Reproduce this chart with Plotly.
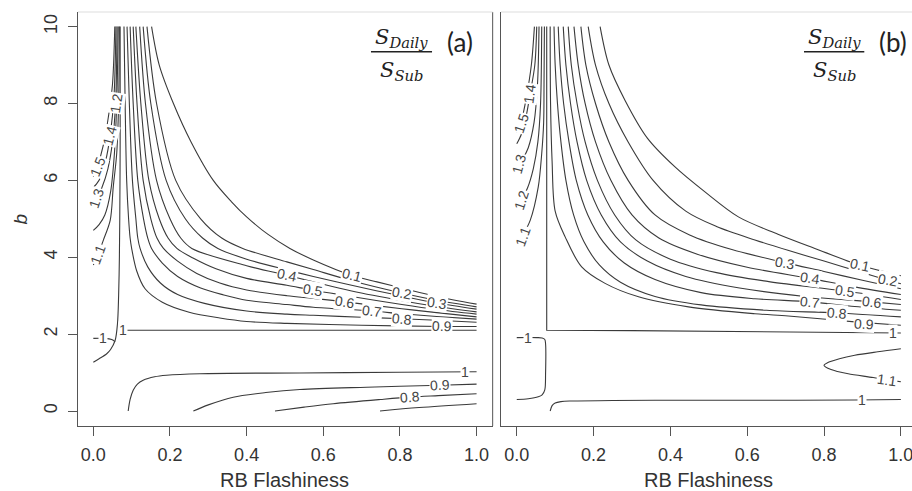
import plotly.graph_objects as go

# ---------------------------------------------------------------------------
# Contour lines of S_Daily / S_Sub  (x = RB Flashiness, y = b)
# ---------------------------------------------------------------------------

# ---- panel (a) ----
a_01_x = [0.152, 0.172, 0.209, 0.255, 0.313, 0.36, 0.40, 0.455, 0.513, 0.574, 0.674, 0.74, 0.805, 0.896, 1.0]
a_01_y = [10, 9, 8, 7, 6, 5.45, 5.05, 4.6, 4.23, 3.93, 3.53, 3.36, 3.20, 2.98, 2.78]
a_02_x = [0.140, 0.165, 0.215, 0.28, 0.335, 0.39, 0.505, 0.574, 0.674, 0.805, 0.896, 1.0]
a_02_y = [10, 8, 6, 5, 4.5, 4.23, 3.88, 3.68, 3.39, 3.07, 2.88, 2.71]
a_03_x = [0.130, 0.150, 0.19, 0.24, 0.285, 0.325, 0.40, 0.505, 0.574, 0.674, 0.805, 0.896, 1.0]
a_03_y = [10, 8, 6, 5, 4.5, 4.23, 3.95, 3.67, 3.50, 3.27, 2.99, 2.81, 2.65]
a_04_x = [0.121, 0.136, 0.165, 0.20, 0.228, 0.257, 0.40, 0.505, 0.574, 0.674, 0.805, 0.896, 1.0]
a_04_y = [10, 8, 6, 5, 4.5, 4.23, 3.78, 3.53, 3.36, 3.12, 2.87, 2.72, 2.58]
a_05_x = [0.111, 0.124, 0.145, 0.172, 0.195, 0.218, 0.26, 0.32, 0.40, 0.505, 0.574, 0.674, 0.805, 0.896, 1.0]
a_05_y = [10, 8, 6, 5, 4.5, 4.23, 3.98, 3.7, 3.45, 3.27, 3.14, 2.98, 2.77, 2.64, 2.52]
a_06_x = [0.104, 0.114, 0.130, 0.150, 0.166, 0.183, 0.22, 0.27, 0.33, 0.40, 0.505, 0.574, 0.657, 0.805, 0.896, 1.0]
a_06_y = [10, 8, 6, 5, 4.5, 4.23, 3.9, 3.58, 3.33, 3.15, 3.0, 2.93, 2.84, 2.66, 2.56, 2.45]
a_07_x = [0.096, 0.104, 0.116, 0.131, 0.142, 0.152, 0.18, 0.22, 0.28, 0.34, 0.40, 0.505, 0.574, 0.726, 0.805, 0.896, 1.0]
a_07_y = [10, 8, 6, 5, 4.5, 4.23, 3.85, 3.5, 3.2, 3.02, 2.88, 2.77, 2.70, 2.60, 2.53, 2.46, 2.39]
a_08_x = [0.088, 0.094, 0.102, 0.111, 0.116, 0.122, 0.142, 0.175, 0.22, 0.29, 0.40, 0.505, 0.574, 0.70, 0.805, 0.896, 1.0]
a_08_y = [10, 8, 6, 5, 4.5, 4.23, 3.75, 3.33, 3.03, 2.8, 2.6, 2.52, 2.49, 2.44, 2.40, 2.36, 2.31]
a_09_x = [0.080, 0.083, 0.087, 0.092, 0.096, 0.100, 0.113, 0.135, 0.18, 0.25, 0.33, 0.40, 0.505, 0.70, 0.909, 1.0]
a_09_y = [10, 8, 6, 5, 4.5, 4.23, 3.65, 3.18, 2.83, 2.57, 2.42, 2.33, 2.28, 2.23, 2.20, 2.20]

a_11_x = [0.068, 0.066, 0.061, 0.052, 0.044, 0.026, 0.013, 0.0]
a_11_y = [10, 8, 6.7, 5.83, 4.96, 4.44, 4.08, 3.8]
a_12_x = [0.065, 0.061, 0.055, 0.045, 0.030, 0.015, 0.0]
a_12_y = [10, 8, 6.7, 5.7, 5.1, 4.85, 4.7]
a_13_x = [0.062, 0.058, 0.050, 0.038, 0.022, 0.009, 0.0]
a_13_y = [10, 8, 7.0, 6.3, 5.8, 5.53, 5.4]
a_14_x = [0.059, 0.054, 0.044, 0.032, 0.020, 0.008, 0.0]
a_14_y = [10, 8.2, 7.17, 6.5, 6.1, 5.9, 5.82]
a_15_x = [0.056, 0.050, 0.040, 0.028, 0.018, 0.011, 0.0]
a_15_y = [10, 8.5, 7.7, 7.0, 6.6, 6.35, 6.1]

# level 1.0 pieces
a_10v_x = [0.070, 0.070, 0.069, 0.068, 0.066, 0.063, 0.057, 0.045, 0.035, 0.015, 0.0]
a_10v_y = [10, 7, 5, 4, 3, 2.27, 1.84, 1.6, 1.49, 1.36, 1.27]
a_10h_x = [0.068, 0.30, 0.60, 1.0]
a_10h_y = [2.10, 2.10, 2.10, 2.10]
a_10l_x = [0.0, 0.030, 0.048, 0.057]
a_10l_y = [1.89, 1.89, 1.86, 1.80]
a_10b_x = [0.091, 0.096, 0.104, 0.115, 0.13, 0.16, 0.191, 0.278, 0.539, 0.80, 1.0]
a_10b_y = [0.0, 0.3, 0.54, 0.70, 0.80, 0.89, 0.93, 0.97, 0.99, 1.01, 1.02]
# lower levels near the bottom
a_09b_x = [0.261, 0.30, 0.365, 0.45, 0.539, 0.713, 0.905, 1.0]
a_09b_y = [0.0, 0.16, 0.36, 0.48, 0.56, 0.62, 0.67, 0.70]
a_08b_x = [0.474, 0.55, 0.626, 0.75, 0.826, 0.90, 1.0]
a_08b_y = [0.0, 0.10, 0.19, 0.30, 0.36, 0.40, 0.45]
a_07b_x = [0.748, 0.85, 1.0]
a_07b_y = [0.0, 0.09, 0.19]

a_lab_text = ["0.1", "0.2", "0.3", "0.4", "0.5", "0.6", "0.7", "0.8", "0.9",
              "1.1", "1.2", "1.3", "1.4", "1.5", "1", "1", "1", "0.9", "0.8"]
a_lab_x = [0.674, 0.805, 0.896, 0.505, 0.574, 0.657, 0.726, 0.805, 0.909,
           0.013, 0.061, 0.009, 0.044, 0.011, 0.078, 0.025, 0.970, 0.905, 0.826]
a_lab_y = [3.53, 3.07, 2.81, 3.53, 3.14, 2.84, 2.60, 2.40, 2.20,
           4.08, 8.0, 5.53, 7.17, 6.35, 2.10, 1.89, 1.01, 0.67, 0.36]

# ---- panel (b) ----
b_01_x = [0.217, 0.24, 0.282, 0.34, 0.412, 0.49, 0.577, 0.68, 0.776, 0.894, 1.0]
b_01_y = [10, 9, 8.08, 7.1, 6.35, 5.7, 5.05, 4.6, 4.23, 3.79, 3.52]
b_02_x = [0.186, 0.205, 0.24, 0.29, 0.355, 0.44, 0.52, 0.62, 0.706, 0.80, 0.90, 0.967, 1.0]
b_02_y = [10, 9, 8, 7, 6, 5.2, 4.8, 4.45, 4.18, 3.9, 3.6, 3.40, 3.31]
b_03_x = [0.167, 0.18, 0.205, 0.24, 0.29, 0.36, 0.45, 0.56, 0.698, 0.80, 0.90, 1.0]
b_03_y = [10, 9, 8, 7, 6, 5.1, 4.58, 4.2, 3.86, 3.63, 3.40, 3.18]
b_04_x = [0.149, 0.16, 0.178, 0.205, 0.245, 0.30, 0.37, 0.47, 0.60, 0.763, 0.88, 1.0]
b_04_y = [10, 9, 8, 7, 6, 5.1, 4.5, 4.08, 3.74, 3.45, 3.23, 3.03]
b_05_x = [0.134, 0.142, 0.157, 0.178, 0.21, 0.255, 0.31, 0.40, 0.52, 0.66, 0.854, 1.0]
b_05_y = [10, 9, 8, 7, 6, 5.1, 4.45, 3.95, 3.6, 3.36, 3.12, 2.90]
b_06_x = [0.121, 0.128, 0.14, 0.157, 0.182, 0.22, 0.27, 0.34, 0.44, 0.58, 0.75, 0.924, 1.0]
b_06_y = [10, 9, 8, 7, 6, 5.1, 4.4, 3.9, 3.5, 3.2, 2.98, 2.84, 2.77]
b_07_x = [0.108, 0.113, 0.122, 0.136, 0.155, 0.185, 0.225, 0.28, 0.36, 0.48, 0.62, 0.763, 0.88, 1.0]
b_07_y = [10, 9, 8, 7, 6, 5.1, 4.4, 3.85, 3.42, 3.08, 2.92, 2.84, 2.72, 2.62]
b_08_x = [0.097, 0.10, 0.106, 0.115, 0.128, 0.148, 0.175, 0.215, 0.27, 0.36, 0.48, 0.65, 0.833, 1.0]
b_08_y = [10, 9, 8, 7, 6, 5.1, 4.4, 3.8, 3.35, 2.98, 2.76, 2.62, 2.55, 2.45]
b_09_x = [0.087, 0.088, 0.092, 0.100, 0.126, 0.169, 0.23, 0.317, 0.447, 0.62, 0.707, 0.88, 1.0]
b_09_y = [10, 8, 6.5, 5.2, 4.53, 3.75, 3.32, 2.97, 2.71, 2.53, 2.47, 2.32, 2.23]

b_11_x = [0.072, 0.071, 0.070, 0.065, 0.056, 0.035, 0.017, 0.0]
b_11_y = [10, 8.5, 7.5, 6.7, 5.83, 4.96, 4.6, 4.35]
b_12_x = [0.065, 0.062, 0.055, 0.043, 0.028, 0.013, 0.0]
b_12_y = [10, 8, 7, 6.3, 5.8, 5.5, 5.35]
b_13_x = [0.058, 0.054, 0.045, 0.030, 0.015, 0.007, 0.0]
b_13_y = [10, 8.5, 7.5, 6.85, 6.55, 6.44, 6.35]
b_14_x = [0.052, 0.047, 0.035, 0.025, 0.012, 0.0]
b_14_y = [10, 9, 8.26, 7.7, 7.2, 6.95]
b_15_x = [0.046, 0.038, 0.025, 0.016, 0.010, 0.0]
b_15_y = [10, 9, 8.15, 7.7, 7.45, 7.25]

# level 1.0 pieces
b_10v_x = [0.078, 0.078, 0.30, 0.60, 0.90, 1.0]
b_10v_y = [10, 2.10, 2.09, 2.07, 2.04, 2.03]
b_10l_x = [0.0, 0.052, 0.066, 0.073, 0.075, 0.075, 0.073, 0.066, 0.056, 0.030, 0.0]
b_10l_y = [1.91, 1.91, 1.90, 1.86, 1.75, 0.97, 0.55, 0.42, 0.37, 0.32, 0.30]
b_10b_x = [0.087, 0.092, 0.10, 0.115, 0.143, 0.25, 0.36, 0.60, 0.88, 1.0]
b_10b_y = [0.0, 0.14, 0.21, 0.245, 0.26, 0.275, 0.28, 0.28, 0.285, 0.30]
# level 1.1 loop on the right
b_11r_x = [1.0, 0.94, 0.88, 0.84, 0.81, 0.80, 0.81, 0.835, 0.863, 0.928, 0.963, 1.0]
b_11r_y = [1.62, 1.54, 1.45, 1.36, 1.26, 1.19, 1.11, 1.03, 0.97, 0.87, 0.81, 0.76]

b_lab_text = ["0.1", "0.2", "0.3", "0.4", "0.5", "0.6", "0.7", "0.8", "0.9",
              "1.1", "1.2", "1.3", "1.4", "1.5", "1", "1", "1", "1.1"]
b_lab_x = [0.894, 0.967, 0.698, 0.763, 0.854, 0.924, 0.763, 0.833, 0.905,
           0.017, 0.013, 0.007, 0.035, 0.013, 0.980, 0.030, 0.900, 0.963]
b_lab_y = [3.79, 3.40, 3.86, 3.45, 3.12, 2.84, 2.84, 2.55, 2.27,
           4.55, 5.48, 6.44, 8.26, 7.48, 2.03, 1.91, 0.28, 0.81]

x_ticks = [0.0, 0.2, 0.4, 0.6, 0.8, 1.0]
x_tick_text = ["0.0", "0.2", "0.4", "0.6", "0.8", "1.0"]
y_ticks = [0, 2, 4, 6, 8, 10]

# ---------------------------------------------------------------------------
LINE_COLOR = "#3a3a3a"
AXIS_COLOR = "#555555"
TEXT_COLOR = "#333333"
SANS = "Liberation Sans"

fig = go.Figure()


def curve(xs, ys, xa, ya, shape="spline"):
    fig.add_trace(go.Scatter(
        x=xs, y=ys, mode="lines", xaxis=xa, yaxis=ya,
        line=dict(color=LINE_COLOR, width=1.1, shape=shape, smoothing=0.9),
        hoverinfo="skip", showlegend=False))


a_smooth = [(a_01_x, a_01_y), (a_02_x, a_02_y), (a_03_x, a_03_y), (a_04_x, a_04_y),
            (a_05_x, a_05_y), (a_06_x, a_06_y), (a_07_x, a_07_y), (a_08_x, a_08_y),
            (a_09_x, a_09_y), (a_11_x, a_11_y), (a_12_x, a_12_y), (a_13_x, a_13_y),
            (a_14_x, a_14_y), (a_15_x, a_15_y), (a_10v_x, a_10v_y), (a_10l_x, a_10l_y),
            (a_10b_x, a_10b_y), (a_09b_x, a_09b_y), (a_08b_x, a_08b_y), (a_07b_x, a_07b_y)]
for xs, ys in a_smooth:
    curve(xs, ys, "x", "y")
curve(a_10h_x, a_10h_y, "x", "y", shape="linear")

b_smooth = [(b_01_x, b_01_y), (b_02_x, b_02_y), (b_03_x, b_03_y), (b_04_x, b_04_y),
            (b_05_x, b_05_y), (b_06_x, b_06_y), (b_07_x, b_07_y), (b_08_x, b_08_y),
            (b_09_x, b_09_y), (b_11_x, b_11_y), (b_12_x, b_12_y), (b_13_x, b_13_y),
            (b_14_x, b_14_y), (b_15_x, b_15_y), (b_10l_x, b_10l_y), (b_10b_x, b_10b_y),
            (b_11r_x, b_11r_y)]
for xs, ys in b_smooth:
    curve(xs, ys, "x2", "y2")
curve(b_10v_x, b_10v_y, "x2", "y2", shape="linear")

# contour labels, rotated along their lines and blanking the line beneath
a_angles = [14, 10, 8, 12, 10, 9, 7, 5, 2, -70, -82, -72, -75, -68, 0, 0, 0, -3, -4]
b_angles = [12, 10, 10, 9, 8, 7, 6, 5, 3, -70, -72, -75, -82, -72, 0, 0, 0, 8]
LABEL_FONT = dict(family=SANS, size=14, color="#454545")
annotations = []
for txt, x, y, ang in zip(a_lab_text, a_lab_x, a_lab_y, a_angles):
    annotations.append(dict(x=x, y=y, xref="x", yref="y", text=txt, showarrow=False,
                            xanchor="center", yanchor="middle",
                            textangle=ang, bgcolor="white", borderpad=0, font=LABEL_FONT))
for txt, x, y, ang in zip(b_lab_text, b_lab_x, b_lab_y, b_angles):
    annotations.append(dict(x=x, y=y, xref="x2", yref="y2", text=txt, showarrow=False,
                            xanchor="center", yanchor="middle",
                            textangle=ang, bgcolor="white", borderpad=0, font=LABEL_FONT))

# axis titles
for xr in ("x", "x2"):
    annotations.append(dict(x=0.5, y=-0.1304, xref=xr, yref="paper", text="RB Flashiness",
                            showarrow=False, xanchor="center", yanchor="middle",
                            font=dict(family=SANS, size=20, color=TEXT_COLOR)))
annotations.append(dict(x=-0.0700, y=0.5, xref="paper", yref="paper", text="<i>b</i>",
                        showarrow=False, textangle=-90, xanchor="center", yanchor="middle",
                        font=dict(family=SANS, size=19, color=TEXT_COLOR)))

# ratio captions S_Daily / S_Sub with panel tags
SERIF = "DejaVu Serif"
for cx, tag_x, tag in ((0.3879, 0.4580, "(a)"), (0.9065, 0.9772, "(b)")):
    annotations.append(dict(x=cx, y=0.936, xref="paper", yref="paper",
                            text="<i>S</i><sub><i>Daily</i></sub>", showarrow=False,
                            xanchor="center", yanchor="middle",
                            font=dict(family=SERIF, size=21, color="#222222")))
    annotations.append(dict(x=cx, y=0.857, xref="paper", yref="paper",
                            text="<i>S</i><sub><i>Sub</i></sub>", showarrow=False,
                            xanchor="center", yanchor="middle",
                            font=dict(family=SERIF, size=21, color="#222222")))
    annotations.append(dict(x=tag_x, y=0.928, xref="paper", yref="paper", text=tag,
                            showarrow=False, xanchor="center", yanchor="middle",
                            font=dict(family="Lato", size=26, color="#222222")))

shapes = [
    # fraction bars
    dict(type="line", xref="paper", yref="paper", x0=0.3513, x1=0.4245, y0=0.9041, y1=0.9041,
         line=dict(color="#222222", width=1.6)),
    dict(type="line", xref="paper", yref="paper", x0=0.8705, x1=0.9428, y0=0.9041, y1=0.9041,
         line=dict(color="#222222", width=1.6)),
    # right border of panel (a)
    dict(type="line", xref="x domain", yref="y domain", x0=1, x1=1, y0=0, y1=1,
         line=dict(color=AXIS_COLOR, width=1)),
    # faint top borders
    dict(type="line", xref="x domain", yref="y domain", x0=0, x1=1, y0=1, y1=1,
         line=dict(color="#dddddd", width=1)),
    dict(type="line", xref="x2 domain", yref="y2 domain", x0=0, x1=1, y0=1, y1=1,
         line=dict(color="#dddddd", width=1)),
]

x_common = dict(tickvals=x_ticks, ticktext=x_tick_text, ticks="outside", ticklen=9,
                tickcolor=AXIS_COLOR, showline=True, linecolor=AXIS_COLOR, linewidth=1,
                showgrid=False, zeroline=False, ticklabelstandoff=3,
                ticklabeloverflow="allow",
                tickfont=dict(family=SANS, size=18, color=TEXT_COLOR))

fig.update_layout(
    width=912, height=491,
    margin=dict(l=78, r=0, t=12, b=65),
    paper_bgcolor="white", plot_bgcolor="white",
    showlegend=False,
    xaxis=dict(domain=[0, 0.4972], range=[-0.04, 1.042], anchor="y", **x_common),
    xaxis2=dict(domain=[0.5072, 1], range=[-0.041, 1.029], anchor="y2", **x_common),
    yaxis=dict(domain=[0, 1], range=[-0.39, 10.38], anchor="x", tickvals=y_ticks,
               ticks="outside", ticklen=9, tickcolor=AXIS_COLOR, tickangle=-90,
               showline=True, linecolor=AXIS_COLOR, linewidth=1, showgrid=False,
               zeroline=False, ticklabelstandoff=4,
               tickfont=dict(family=SANS, size=18, color=TEXT_COLOR)),
    yaxis2=dict(domain=[0, 1], range=[-0.39, 10.38], anchor="x2", showticklabels=False,
                ticks="", showline=True, linecolor=AXIS_COLOR, linewidth=1,
                showgrid=False, zeroline=False),
    annotations=annotations,
    shapes=shapes,
)

fig.write_html("out.html", config={"displayModeBar": False})
